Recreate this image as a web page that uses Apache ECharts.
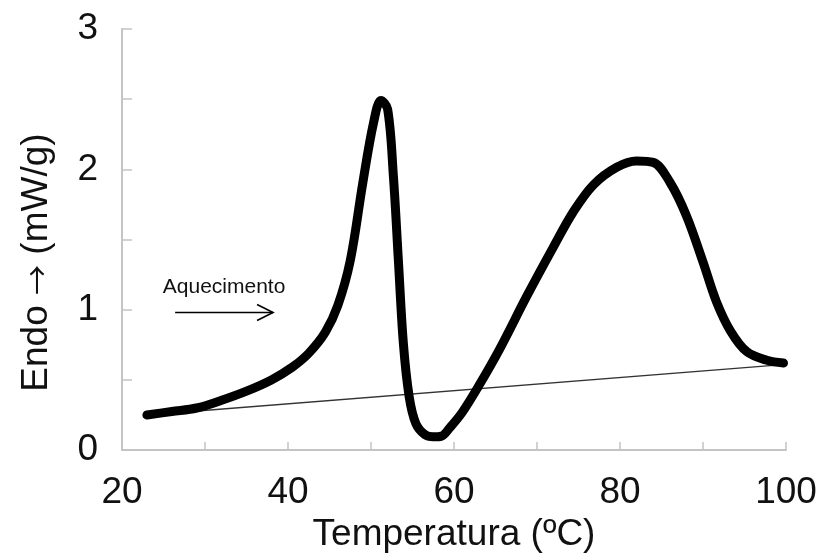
<!DOCTYPE html>
<html>
<head>
<meta charset="utf-8">
<script src="https://cdn.jsdelivr.net/npm/echarts@6/dist/echarts.min.js"></script>
<style>
  html, body { margin: 0; padding: 0; background: #fff; }
  #chart { width: 822px; height: 558px; }
</style>
</head>
<body>
<div id="chart"></div>
<script>
// DSC heating curve: temperature (°C) vs heat flow (mW/g)
const temperature = [23.0, 26.0, 29.0, 32.0, 35.0, 38.0, 40.5, 42.5, 44.5, 46.0,
  47.5, 49.0, 50.3, 51.2, 52.0, 52.7, 53.3, 53.9, 54.6, 55.4,
  56.5, 57.5, 58.5, 59.5, 61.0, 63.0, 65.5, 68.8, 72.0, 74.4,
  76.8, 79.6, 82.0, 84.0, 86.0, 88.0, 90.0, 91.6, 93.3, 95.3,
  97.7, 99.7];
const heatFlow = [0.25, 0.275, 0.30, 0.355, 0.42, 0.50, 0.59, 0.69, 0.84, 1.03,
  1.35, 1.90, 2.33, 2.49, 2.43, 1.95, 1.35, 0.76, 0.38, 0.19,
  0.11, 0.095, 0.10, 0.16, 0.27, 0.46, 0.72, 1.10, 1.45, 1.70,
  1.89, 2.015, 2.06, 2.05, 1.91, 1.67, 1.34, 1.06, 0.85, 0.70,
  0.64, 0.62];

// Straight baseline under both events
const baselineT = [23, 100];
const baselineV = [0.25, 0.61];

// Heating-direction note (arrow start/end temperature, level)
const noteText = 'Aquecimento';
const noteArrow = [26.4, 38.2, 0.98];

const xTickLabels = [20, 40, 60, 80, 100];
const yTickLabels = [0, 1, 2, 3];

const font = 'Liberation Sans, Arial, sans-serif';
const axisGrey = '#c4c4c4';

const curve = temperature.map((t, i) => [t, heatFlow[i]]);
const baseline = baselineT.map((t, i) => [t, baselineV[i]]);

const chart = echarts.init(document.getElementById('chart'));
chart.setOption({
  backgroundColor: '#ffffff',
  animation: false,
  grid: { left: 122, right: 36, top: 29, bottom: 104.5, containLabel: false },
  xAxis: {
    type: 'value',
    min: xTickLabels[0],
    max: xTickLabels[xTickLabels.length - 1],
    interval: 20,
    name: 'Temperatura (ºC)',
    nameLocation: 'middle',
    nameGap: 63,
    nameTextStyle: { fontFamily: font, fontSize: 37, color: '#111' },
    axisLine: { lineStyle: { color: axisGrey, width: 2 } },
    axisTick: { show: true, inside: true, length: 8, lineStyle: { color: axisGrey, width: 1.5 } },
    minorTick: { show: true, splitNumber: 2, length: 8, lineStyle: { color: axisGrey, width: 1.5 } },
    splitLine: { show: false },
    axisLabel: { fontFamily: font, fontSize: 37, color: '#111', margin: 24 }
  },
  yAxis: {
    type: 'value',
    min: yTickLabels[0],
    max: yTickLabels[yTickLabels.length - 1],
    interval: 1,
    name: 'Endo {arr|→} (mW/g)',
    nameLocation: 'middle',
    nameGap: 67,
    nameTextStyle: {
      fontFamily: font, fontSize: 37, color: '#111', padding: [0, 46, 0, 0],
      rich: { arr: { fontFamily: 'Noto Sans CJK SC', fontSize: 30, color: '#111' } }
    },
    axisLine: { show: true, lineStyle: { color: axisGrey, width: 2 } },
    axisTick: { show: true, inside: true, length: 10, lineStyle: { color: axisGrey, width: 1.5 } },
    minorTick: { show: true, splitNumber: 2, length: 10, lineStyle: { color: axisGrey, width: 1.5 } },
    splitLine: { show: false },
    axisLabel: { fontFamily: font, fontSize: 37, color: '#111', margin: 24 }
  },
  series: [
    {
      name: 'baseline',
      type: 'line',
      data: baseline,
      symbol: 'none',
      lineStyle: { color: '#333', width: 1.3 },
      z: 1
    },
    {
      name: 'DSC',
      type: 'line',
      data: curve,
      symbol: 'none',
      smooth: 0.35,
      smoothMonotone: 'none',
      lineStyle: { color: '#000', width: 9, cap: 'round', join: 'round' },
      z: 2
    },
    {
      name: 'note',
      type: 'custom',
      data: [noteArrow],
      silent: true,
      z: 3,
      renderItem: function (params, api) {
        const p1 = api.coord([api.value(0), api.value(2)]);
        const p2 = api.coord([api.value(1), api.value(2)]);
        const midX = (p1[0] + p2[0]) / 2;
        return {
          type: 'group',
          children: [
            {
              type: 'line',
              shape: { x1: p1[0], y1: p1[1], x2: p2[0], y2: p2[1] },
              style: { stroke: '#000', lineWidth: 1.6 }
            },
            {
              type: 'polyline',
              shape: { points: [[p2[0] - 16, p2[1] - 8], [p2[0], p2[1]], [p2[0] - 16, p2[1] + 8]] },
              style: { stroke: '#000', lineWidth: 1.6, fill: null }
            },
            {
              type: 'text',
              style: {
                text: noteText,
                x: midX,
                y: p1[1] - 25,
                align: 'center',
                verticalAlign: 'middle',
                font: '21px ' + font,
                fill: '#111'
              }
            }
          ]
        };
      }
    }
  ]
});
</script>
</body>
</html>
